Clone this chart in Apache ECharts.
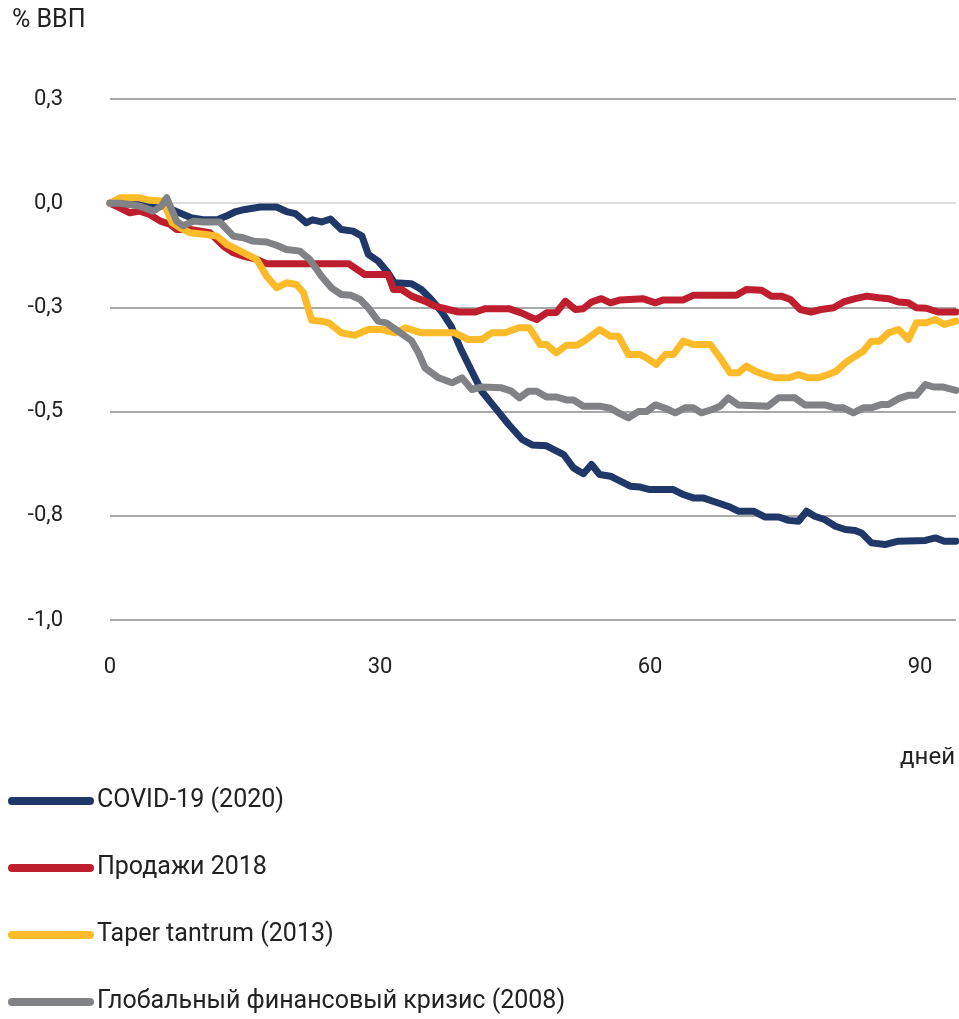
<!DOCTYPE html>
<html>
<head>
<meta charset="utf-8">
<script src="https://cdn.jsdelivr.net/npm/echarts@6/dist/echarts.min.js"></script>
<style>
  html, body { margin: 0; padding: 0; background: #fff; }
  #chart { width: 959px; height: 1019px; }
</style>
</head>
<body>
<div id="chart"></div>
<script>
// series names
const seriesNames = ["COVID-19 (2020)", "Продажи 2018", "Taper tantrum (2013)", "Глобальный финансовый кризис (2008)"];
const seriesColors = ["#1f3868", "#be1e2d", "#fdbb2a", "#808285"];

// x tick values (days)
const xTicks = [0, 30, 60, 90];

// COVID-19 (2020)
const covidDays = [0, 3, 6, 9, 10.5, 12, 13, 14, 15, 16.7, 18.5, 19.6, 20.6, 21.8, 22.5, 23.5, 24.5, 25.7, 27, 28, 28.7, 29.8,
  30.9, 31.6, 33.5, 34.6, 35.7, 36.8, 37.9, 39, 40.1, 41.3, 42.8, 44.3, 45.8, 46.9, 48.5, 50.4, 51.5, 52.6, 53.5, 54.4,
  55.6, 56.7, 57.8, 58.9, 60, 62.6, 63.7, 64.8, 65.9, 67, 68.9, 69.8, 71.5, 72.8, 74.3, 75.4, 76.5, 77.4, 78.3, 79.4,
  80.6, 81.7, 82.8, 83.5, 84.6, 86.1, 87.6, 90.6, 91.7, 92.7, 94];
const covidVals = [0, -0.003, -0.007, -0.035, -0.04, -0.039, -0.03, -0.02, -0.015, -0.009, -0.009, -0.02, -0.025, -0.047, -0.04, -0.045, -0.038, -0.063, -0.067, -0.079, -0.123, -0.139,
  -0.167, -0.191, -0.193, -0.207, -0.231, -0.259, -0.295, -0.351, -0.399, -0.451, -0.491, -0.531, -0.567, -0.58, -0.582, -0.603, -0.635, -0.649, -0.627, -0.651,
  -0.655, -0.667, -0.679, -0.681, -0.687, -0.687, -0.699, -0.707, -0.707, -0.715, -0.729, -0.739, -0.739, -0.753, -0.753, -0.761, -0.763, -0.739, -0.751, -0.759,
  -0.775, -0.783, -0.785, -0.791, -0.815, -0.819, -0.811, -0.809, -0.803, -0.811, -0.811];

// Продажи 2018
const sell18Days = [0, 1.1, 2.2, 3.3, 4.4, 5.6, 6.7, 7.4, 8.9, 11.1, 12.6, 13.7, 14.8, 16.3, 17.4, 26.5, 28.3, 30.9, 31.5, 32.4,
  33.5, 35, 36.1, 37.6, 38.7, 40.6, 41.7, 44.3, 45.7, 46.9, 47.4, 48.5, 49.6, 50.6, 51.7, 52.6, 53.5, 54.6, 55.6, 56.7,
  59.2, 60.6, 61.5, 63.7, 64.8, 69.6, 70.7, 72.4, 73.5, 74.6, 75.6, 76.7, 77.9, 79, 80.4, 81.5, 82.8, 84.1, 85.4, 86.5,
  87.6, 88.7, 89.6, 90.7, 92, 94];
const sell18Vals = [0, -0.011, -0.023, -0.019, -0.027, -0.043, -0.051, -0.063, -0.063, -0.071, -0.103, -0.119, -0.127, -0.135, -0.145, -0.145, -0.171, -0.171, -0.207, -0.207,
  -0.223, -0.235, -0.247, -0.255, -0.261, -0.261, -0.253, -0.253, -0.263, -0.275, -0.279, -0.263, -0.262, -0.235, -0.255, -0.253, -0.237, -0.229, -0.239, -0.232,
  -0.229, -0.239, -0.232, -0.232, -0.221, -0.221, -0.207, -0.209, -0.223, -0.223, -0.231, -0.255, -0.261, -0.255, -0.251, -0.237, -0.229, -0.223, -0.227, -0.229,
  -0.237, -0.239, -0.251, -0.252, -0.261, -0.261];

// Taper tantrum (2013)
const taperDays = [0, 1.1, 3.3, 4.4, 5.9, 6.9, 7.8, 8.9, 10.7, 11.9, 13, 14.1, 15.2, 16.3, 17.4, 18.5, 19.6, 20.7, 21.5, 22.4,
  23.5, 24.3, 25.7, 27.2, 28.7, 30.2, 31.7, 32.8, 34.6, 38.3, 39.8, 41.3, 42.4, 43.9, 45.4, 46.6, 47.8, 48.5, 49.6, 50.7,
  51.9, 52.8, 54.4, 55.6, 56.5, 57.6, 58.9, 59.6, 60.7, 61.7, 62.6, 63.7, 64.8, 66.7, 67.8, 68.9, 69.8, 70.7, 71.7, 72.8,
  73.9, 75.4, 76.5, 77.6, 78.7, 79.8, 80.7, 81.7, 82.8, 83.7, 84.6, 85.5, 86.5, 87.6, 88.7, 89.6, 90.7, 91.7, 92.7, 94];
const taperVals = [0, 0.013, 0.013, 0.007, 0.005, -0.047, -0.059, -0.071, -0.075, -0.079, -0.099, -0.111, -0.123, -0.135, -0.175, -0.203, -0.191, -0.195, -0.215, -0.281,
  -0.283, -0.287, -0.311, -0.317, -0.303, -0.303, -0.311, -0.299, -0.311, -0.311, -0.327, -0.327, -0.311, -0.311, -0.299, -0.299, -0.339, -0.339, -0.359, -0.341,
  -0.341, -0.329, -0.303, -0.319, -0.319, -0.363, -0.363, -0.371, -0.387, -0.363, -0.363, -0.331, -0.339, -0.339, -0.371, -0.407, -0.407, -0.391, -0.403, -0.412,
  -0.419, -0.419, -0.411, -0.419, -0.419, -0.411, -0.403, -0.383, -0.367, -0.355, -0.331, -0.331, -0.311, -0.303, -0.327, -0.287, -0.287, -0.279, -0.291, -0.283];

// Глобальный финансовый кризис (2008)
const gfcDays = [0, 1.1, 2.2, 3.3, 4.8, 5.7, 6.3, 7.4, 8.1, 9.3, 10.4, 12.2, 13, 13.7, 14.8, 15.9, 17.4, 18.5, 19.6, 21.1,
  22.2, 23.5, 24.6, 25.7, 26.8, 27.8, 28.7, 29.8, 30.7, 32, 33.5, 34.3, 35, 36.5, 38, 39.1, 40.2, 41.3, 43.5, 44.6,
  45.5, 46.5, 47.4, 48.5, 49.6, 50.7, 51.5, 52.6, 54.4, 55.6, 56.5, 57.6, 58.7, 59.6, 60.6, 61.7, 62.8, 63.9, 64.8, 65.7,
  66.9, 67.8, 68.7, 69.8, 73.1, 74.3, 76.1, 77.2, 79.4, 80.6, 81.5, 82.6, 83.7, 84.6, 85.7, 86.5, 87.6, 88.7, 89.6, 90.6,
  91.5, 92.6, 94];
const gfcVals = [0, 0, -0.003, -0.007, -0.019, -0.007, 0.013, -0.043, -0.054, -0.043, -0.045, -0.045, -0.063, -0.079, -0.083, -0.091, -0.093, -0.101, -0.111, -0.115,
  -0.135, -0.175, -0.203, -0.219, -0.221, -0.231, -0.251, -0.283, -0.287, -0.307, -0.33, -0.36, -0.395, -0.419, -0.431, -0.419, -0.447, -0.441, -0.443, -0.451,
  -0.467, -0.451, -0.451, -0.465, -0.465, -0.472, -0.472, -0.487, -0.487, -0.492, -0.503, -0.515, -0.5, -0.5, -0.484, -0.492, -0.503, -0.491, -0.491, -0.503,
  -0.495, -0.487, -0.467, -0.484, -0.487, -0.467, -0.467, -0.484, -0.484, -0.491, -0.491, -0.503, -0.491, -0.491, -0.483, -0.483, -0.469, -0.461, -0.461, -0.435,
  -0.441, -0.441, -0.449];

const allDays = [covidDays, sell18Days, taperDays, gfcDays];
const allVals = [covidVals, sell18Vals, taperVals, gfcVals];

const chart = echarts.init(document.getElementById("chart"), null, { renderer: "canvas" });

function fmt(v) {
  // one decimal, comma separator (0.25 -> 0,3)
  const s = v < 0 ? "-" : "";
  const r = Math.round(Math.abs(v) * 10 + 1e-9) / 10;
  return s + r.toFixed(1).replace(".", ",");
}

const legendIcon = "path://M4,0H82A4,4,0,0,1,82,8H4A4,4,0,0,1,4,0Z";

const option = {
  animation: false,
  backgroundColor: "#fff",
  textStyle: { fontFamily: "Roboto" },
  grid: { left: 110, right: 3, top: 99, bottom: 399, containLabel: false },
  graphic: [
    { type: "text", left: 12, top: 8, style: { text: "% ВВП", font: "25px Roboto", fill: "#222" } },
    { type: "text", right: 4, top: 746, style: { text: "дней", font: "24px Roboto", fill: "#222" } }
  ],
  xAxis: {
    type: "value",
    min: 0,
    max: 94,
    interval: 30,
    axisLine: { show: false },
    axisTick: { show: false },
    splitLine: { show: false },
    axisLabel: { fontSize: 22, color: "#222", margin: 36, showMaxLabel: false }
  },
  yAxis: {
    type: "value",
    min: -1,
    max: 0.25,
    interval: 0.25,
    axisLine: { show: false },
    axisTick: { show: false },
    axisLabel: { fontSize: 22, color: "#222", margin: 47, formatter: fmt },
    splitLine: {
      lineStyle: { color: ["#8c8c8c", "#8c8c8c", "#8c8c8c", "#8c8c8c", "#d2d2d2", "#8c8c8c"], width: 1.5 }
    }
  },
  legend: {
    orient: "vertical",
    left: 8,
    top: 786,
    padding: 0,
    itemWidth: 86,
    itemHeight: 8,
    itemGap: 37,
    icon: legendIcon,
    textStyle: { fontSize: 25, color: "#222", lineHeight: 30, padding: [0, 0, 0, -2] },
    data: seriesNames
  },
  series: seriesNames.map((name, i) => ({
    name: name,
    type: "line",
    showSymbol: false,
    symbol: "none",
    color: seriesColors[i],
    lineStyle: { width: 7, color: seriesColors[i], join: "round", cap: "round" },
    data: allDays[i].map((d, k) => [d, allVals[i][k]])
  }))
};

chart.setOption(option);
</script>
</body>
</html>
